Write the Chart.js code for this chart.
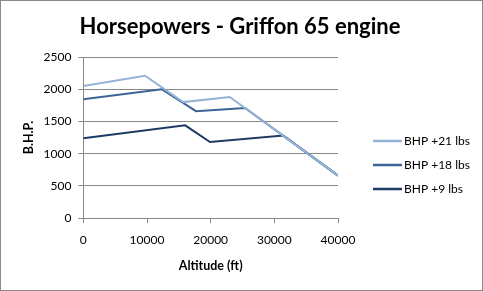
<!DOCTYPE html>
<html>
<head>
<meta charset="utf-8">
<script src="https://cdn.jsdelivr.net/npm/chart.js@4/dist/chart.umd.min.js"></script>
<style>
  html, body { margin: 0; padding: 0; background: #fff; }
  #box { width: 481px; height: 289px; border: 1px solid #8a8a8a; position: relative; }
  canvas { display: block; }
</style>
</head>
<body>
<div id="box"><canvas id="chart" width="481" height="289"></canvas></div>
<script>
// data
const alt21 = [0, 9700, 15700, 23000, 40000];
const bhp21 = [2050, 2210, 1800, 1880, 660];

const alt18 = [0, 12300, 17700, 25400, 40000];
const bhp18 = [1845, 2000, 1660, 1710, 660];

const alt9 = [0, 16000, 19900, 31400, 40000];
const bhp9 = [1240, 1440, 1180, 1280, 660];

const xTicks = [0, 10000, 20000, 30000, 40000];
const yTicks = [0, 500, 1000, 1500, 2000, 2500];

const titleText = "Horsepowers - Griffon 65 engine";

const font = "Lato, 'Open Sans', sans-serif";

function pts(xs, ys) {
  return xs.map((x, i) => ({ x: x, y: ys[i] }));
}

function line(label, xs, ys, color) {
  return {
    label: label,
    data: pts(xs, ys),
    borderColor: color,
    backgroundColor: color,
    borderWidth: 2,
    pointRadius: 0,
    tension: 0
  };
}

// title and legend drawn by hand: the title is centred on the whole box,
// the legend sits to the right of the plot like the original
const decor = {
  id: "decor",
  afterDraw(chart) {
    const ctx = chart.ctx;
    ctx.save();
    ctx.fillStyle = "#000";
    ctx.textBaseline = "middle";
    ctx.textAlign = "center";
    ctx.font = "bold 22px " + font;
    ctx.fillText(titleText, 239, 26);

    ctx.textAlign = "left";
    ctx.font = "12px " + font;
    chart.data.datasets.forEach((ds, i) => {
      const y = 140 + i * 24;
      ctx.strokeStyle = ds.borderColor;
      ctx.lineWidth = 2.5;
      ctx.beginPath();
      ctx.moveTo(372, y);
      ctx.lineTo(401, y);
      ctx.stroke();
      ctx.fillText(ds.label, 403, y);
    });
    ctx.restore();
  }
};

new Chart(document.getElementById("chart"), {
  type: "line",
  data: {
    datasets: [
      line("BHP +21 lbs", alt21, bhp21, "#95b3d7"),
      line("BHP +18 lbs", alt18, bhp18, "#3e6396"),
      line("BHP +9 lbs", alt9, bhp9, "#1f3a64")
    ]
  },
  plugins: [decor],
  options: {
    responsive: false,
    animation: false,
    layout: { padding: { left: 20.5, right: 144, top: 56, bottom: 16.5 } },
    plugins: {
      title: { display: false },
      legend: { display: false },
      tooltip: { enabled: false }
    },
    scales: {
      x: {
        type: "linear",
        min: 0,
        max: 40000,
        afterBuildTicks: axis => { axis.ticks = xTicks.map(v => ({ value: v })); },
        grid: { drawOnChartArea: false, drawTicks: true, tickLength: 5, color: "#888" },
        border: { color: "#888" },
        ticks: { color: "#000", font: { family: font, size: 12 }, padding: 10, maxRotation: 0, callback: v => String(v) },
        title: {
          display: true,
          text: "Altitude (ft)",
          color: "#000",
          font: { family: font, size: 12.5, weight: "bold" },
          padding: { top: 1, bottom: 0 }
        }
      },
      y: {
        min: 0,
        max: 2500,
        afterBuildTicks: axis => { axis.ticks = yTicks.map(v => ({ value: v })); },
        grid: { color: "#888", tickLength: 5 },
        border: { color: "#888" },
        ticks: { color: "#000", font: { family: font, size: 12 }, padding: 7, callback: v => String(v) },
        title: {
          display: true,
          text: "B.H.P.",
          color: "#000",
          font: { family: font, size: 12.5, weight: "bold" },
          padding: { top: 0, bottom: 0 }
        }
      }
    }
  }
});
</script>
</body>
</html>
